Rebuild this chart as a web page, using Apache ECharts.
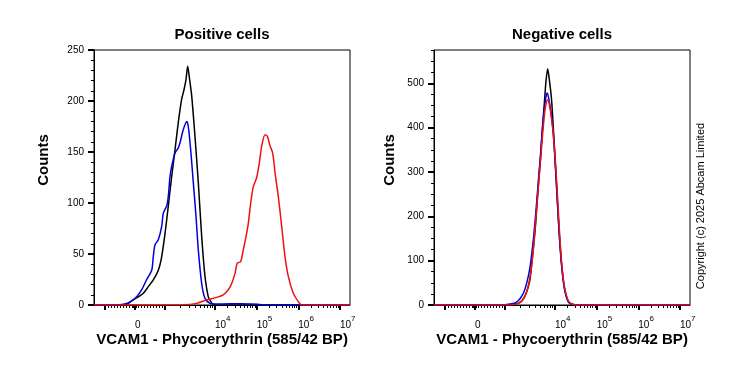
<!DOCTYPE html>
<html><head><meta charset="utf-8">
<script src="https://cdn.jsdelivr.net/npm/echarts@6/dist/echarts.min.js"></script>
<style>html,body{margin:0;padding:0;background:#fff}#c{width:739px;height:370px}</style>
</head><body><div id="c"></div><script>
// x axis: display channel (0..256) of the biexponential (logicle) scale
const xMajorTicks = [11, 41, 71, 121, 162.7, 204.3, 246];
const xLabelPositions = [41, 121, 162.7, 204.3, 246];
const xLabelTexts = ['{b|0}', '{b|10}{s|4}', '{b|10}{s|5}', '{b|10}{s|6}', '{b|10}{s|7}'];
const xMinorTicks = [14,17,20,23,26,29,32,35,38,39.5,42.5,44,47,50,53,56,59,62,65,68,
  86.1,94.9,101.1,105.9,109.9,113.3,116.2,118.7,
  133.5,140.9,146.1,150.1,153.4,156.2,158.6,160.8,
  175.2,182.6,187.8,191.8,195.1,197.9,200.3,202.5,
  216.8,224.2,229.4,233.4,236.7,239.5,241.9,244.1];

const posYTicks = [0, 50, 100, 150, 200, 250];
const negYTicks = [0, 100, 200, 300, 400, 500];

// Positive cells: [channel, count]
const posBlack = [[0,0],[26,0],[31,0.5],[34.3,1.6],[39.3,5],[44.3,8],[49.3,11.5],[54.3,18],[59.3,24.6],[64.3,34],[67.7,47.5],[71,70],[74.3,97],[77.7,126],[81,152],[84.3,179],[87.7,202],[90,211],[92,221],[93.7,234],[95.5,222],[97.7,205],[101,165],[104.3,120],[107.7,67],[111,28],[114.3,8],[117,3],[119.3,0.5],[122,0],[256,0]];
const posBlue = [[0,0],[21,0],[31,1],[36,3],[42.7,8],[47.7,15],[52.7,25],[57.7,34],[59.3,47.5],[61,59],[64.3,64],[67.7,77],[69.3,90],[72.7,97],[74.3,106.5],[76,126],[77.7,136],[81,149],[84.3,154],[86,159],[89.3,172],[92.7,180],[94.3,175],[96.7,152],[99.3,120],[102,87],[104.3,54],[107.7,21],[111,6.5],[116,1.6],[121,1],[136,1.2],[156,1],[164,0.8],[168,0],[256,0]];
const posRed = [[0,0],[89,0.3],[102.7,1.6],[112.7,5],[122.7,7.5],[129.3,10],[134.3,15],[137.7,21],[141,31],[143.3,41],[146.7,42.6],[149.3,54],[152,67],[154.3,80],[156.7,100],[159.3,116],[162.7,125],[165.3,139],[167.7,156],[171,167],[173.3,165.6],[176,156],[178.7,149],[181,130],[184.3,106.6],[187.7,77],[191,47.5],[194.3,28],[199.3,11.5],[204.3,3.3],[207.7,0],[256,0]];

// Negative cells: [channel, count]
const negBlack = [[0,0],[71,0],[81,2],[86,6],[90,16],[93,32],[96,58],[99,120],[101.5,180],[104,260],[106.5,330],[108.5,400],[110.5,460],[112,505],[113.7,533],[115.5,505],[117.5,465],[119.3,400],[121,330],[123,250],[125,170],[127,105],[129,60],[131,32],[133.5,12],[136,4],[141,0.5],[146,0],[256,0]];
const negBlue = [[0,0],[66,0],[76,2],[82,6],[86,14],[90,30],[93,52],[96,85],[99,140],[101.5,200],[104,270],[106.5,340],[108.5,400],[110.5,445],[112,470],[113.3,478],[115,462],[117,435],[119,395],[121,330],[123,250],[125,168],[127,105],[129,60],[131,30],[133.5,11],[136,3],[142,0],[256,0]];
const negRed = [[0,0],[74,0],[82,2],[87,7],[91,20],[94,40],[97,78],[99.5,130],[102,200],[104.5,270],[107,340],[109,395],[111,440],[112.5,458],[113.7,462],[115.5,450],[117.5,420],[119.5,380],[121.5,320],[123.5,245],[125.5,165],[127.5,100],[129.5,55],[132,25],[134.5,9],[137,3],[142,0],[256,0]];

const FONT = '"Liberation Sans", Arial, sans-serif';
const COLORS = {black: '#000000', blue: '#0000dd', red: '#ee1111'};

function minorBetween(majors, step) {
  const out = [];
  for (let i = 0; i < majors.length - 1; i++) {
    for (let v = majors[i] + step; v < majors[i + 1] - 1e-6; v += step) out.push(v);
  }
  return out;
}

function xAxesFor(g) {
  return [{
    type: 'value', gridIndex: g, position: 'bottom', min: 0, max: 256,
    axisLine: {show: true, lineStyle: {color: '#000', width: 1}},
    axisTick: {show: true, customValues: xMajorTicks, length: 5, lineStyle: {color: '#000', width: 2}},
    axisLabel: {
      show: true, customValues: xLabelPositions, align: 'left', margin: 10,
      formatter: function (v) {
        for (let i = 0; i < xLabelPositions.length; i++) if (Math.abs(xLabelPositions[i] - v) < 0.01) return xLabelTexts[i];
        return '';
      },
      rich: {
        b: {fontSize: 10, color: '#000', fontFamily: FONT, verticalAlign: 'bottom', lineHeight: 15},
        s: {fontSize: 8, color: '#000', fontFamily: FONT, verticalAlign: 'top', lineHeight: 15}
      }
    },
    splitLine: {show: false}
  }, {
    type: 'value', gridIndex: g, position: 'bottom', min: 0, max: 256,
    axisLine: {show: false},
    axisTick: {show: true, customValues: xMinorTicks, length: 3, lineStyle: {color: '#000', width: 1}},
    axisLabel: {show: false},
    splitLine: {show: false}
  }];
}

function yAxesFor(g, max, majors, step) {
  return [{
    type: 'value', gridIndex: g, position: 'left', min: 0, max: max,
    axisLine: {show: true, lineStyle: {color: '#000', width: 1}},
    axisTick: {show: true, customValues: majors, length: 6, lineStyle: {color: '#000', width: 2}},
    axisLabel: {show: true, customValues: majors, fontSize: 10, color: '#000', fontFamily: FONT, margin: 10},
    splitLine: {show: false}
  }, {
    type: 'value', gridIndex: g, position: 'left', min: 0, max: max,
    axisLine: {show: false},
    axisTick: {show: true, customValues: minorBetween(majors.concat([max + step]), step).filter(v => v <= max), length: 3, lineStyle: {color: '#000', width: 1}},
    axisLabel: {show: false},
    splitLine: {show: false}
  }];
}

function line(data, color, xi, yi) {
  return {
    type: 'line', data: data, xAxisIndex: xi, yAxisIndex: yi,
    showSymbol: false, symbol: 'none', smooth: 0.25, animation: false,
    lineStyle: {color: color, width: 1.5}, itemStyle: {color: color}
  };
}

function txt(x, y, text, font, rot) {
  return {
    type: 'text', x: x, y: y, rotation: rot || 0, silent: true,
    style: {text: text, font: font, fill: '#000', textAlign: 'center', textVerticalAlign: 'middle'}
  };
}

const chart = echarts.init(document.getElementById('c'), null, {renderer: 'canvas'});
chart.setOption({
  animation: false,
  backgroundColor: '#ffffff',
  grid: [
    {left: 94, top: 50, width: 256, height: 255, show: true, borderColor: '#000', borderWidth: 1, backgroundColor: 'transparent'},
    {left: 434, top: 50, width: 256, height: 255, show: true, borderColor: '#000', borderWidth: 1, backgroundColor: 'transparent'}
  ],
  xAxis: xAxesFor(0).concat(xAxesFor(1)),
  yAxis: yAxesFor(0, 250, posYTicks, 10).concat(yAxesFor(1, 575, negYTicks, 25)),
  series: [
    line(posBlack, COLORS.black, 0, 0),
    line(posBlue, COLORS.blue, 0, 0),
    line(posRed, COLORS.red, 0, 0),
    line(negBlack, COLORS.black, 2, 2),
    line(negBlue, COLORS.blue, 2, 2),
    line(negRed, COLORS.red, 2, 2)
  ],
  graphic: [
    txt(222, 35, 'Positive cells', 'bold 15px ' + FONT),
    txt(562, 35, 'Negative cells', 'bold 15px ' + FONT),
    txt(44, 160, 'Counts', 'bold 15px ' + FONT, Math.PI / 2),
    txt(390, 160, 'Counts', 'bold 15px ' + FONT, Math.PI / 2),
    txt(222, 340, 'VCAM1 - Phycoerythrin (585/42 BP)', 'bold 15px ' + FONT),
    txt(562, 340, 'VCAM1 - Phycoerythrin (585/42 BP)', 'bold 15px ' + FONT),
    txt(701, 206, 'Copyright (c) 2025 Abcam Limited', '11px ' + FONT, Math.PI / 2)
  ]
});
</script></body></html>
